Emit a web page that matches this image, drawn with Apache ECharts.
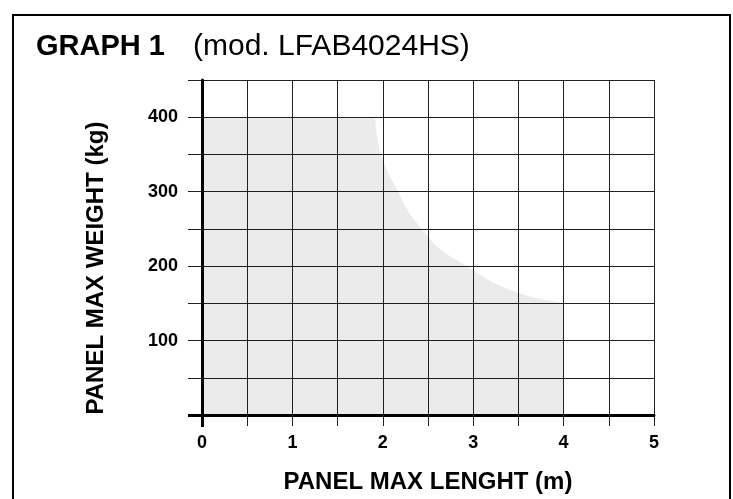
<!DOCTYPE html>
<html>
<head>
<meta charset="utf-8">
<script src="https://cdn.jsdelivr.net/npm/echarts@6/dist/echarts.min.js"></script>
<style>html,body{margin:0;padding:0;background:#fff}#c{width:733px;height:499px}</style>
</head>
<body>
<div id="c"></div>
<script>
// Data
var lengthM  = [0,   1.90, 1.93, 1.98, 2.06, 2.17, 2.28, 2.43, 2.63, 2.93, 3.19, 3.48, 3.74, 4.00];
var weightKg = [400, 400,  378,  350,  325,  300,  274,  250,  223,  200,  180,  165,  156,  150];
var xTicks = [0, 1, 2, 3, 4, 5];
var yTicks = [100, 200, 300, 400];

var font = '"Liberation Sans", Arial, Helvetica, sans-serif';
var gridColor = '#222';

var chart = echarts.init(document.getElementById('c'), null, {renderer: 'canvas'});
chart.setOption({
  animation: false,
  backgroundColor: '#fff',
  graphic: [
    {type: 'rect', shape: {x: 13, y: 15, width: 717, height: 520},
     style: {fill: 'none', stroke: '#000', lineWidth: 2}, z: 100},
    {type: 'text', left: 36, top: 32,
     style: {text: 'GRAPH 1', font: 'bold 29px ' + font, fill: '#000'}},
    {type: 'text', left: 193, top: 32,
     style: {text: '(mod. LFAB4024HS)', font: 'normal 30px ' + font, fill: '#000'}},
    {type: 'text', x: 96, y: 268, rotation: Math.PI / 2,
     style: {text: 'PANEL MAX WEIGHT (kg)', font: 'bold 24px ' + font, fill: '#000',
             align: 'center', verticalAlign: 'middle'}}
  ],
  grid: {left: 202, right: 79, top: 80, bottom: 82, containLabel: false},
  xAxis: [{
    type: 'value', min: 0, max: 5, interval: 0.5,
    name: 'PANEL MAX LENGHT (m)', nameLocation: 'middle', nameGap: 55,
    nameTextStyle: {fontFamily: font, fontWeight: 'bold', fontSize: 24, color: '#000'},
    axisLine: {show: true, onZero: false, lineStyle: {color: '#000', width: 3}},
    axisTick: {show: true, inside: false, length: 11, lineStyle: {color: gridColor, width: 1}},
    axisLabel: {show: true, margin: 19, fontFamily: font, fontWeight: 'bold', fontSize: 18, color: '#000',
      formatter: function (v) { return xTicks.indexOf(v) >= 0 ? String(v) : ''; }},
    splitLine: {show: true, lineStyle: {color: gridColor, width: 1}}
  }, {
    type: 'value', min: 0, max: 5, position: 'bottom', offset: 0,
    axisLine: {show: false},
    axisTick: {show: true, customValues: [0], length: 12, lineStyle: {color: '#000', width: 3}},
    axisLabel: {show: false}, splitLine: {show: false}
  }],
  yAxis: [{
    type: 'value', min: 0, max: 450, interval: 50,
    axisLine: {show: true, onZero: false, lineStyle: {color: '#000', width: 3}},
    axisTick: {show: true, inside: false, length: 14, lineStyle: {color: gridColor, width: 1}},
    axisLabel: {show: true, margin: 24, fontFamily: font, fontWeight: 'bold', fontSize: 18, color: '#000',
      formatter: function (v) { return yTicks.indexOf(v) >= 0 ? String(v) : ''; }},
    splitLine: {show: true, lineStyle: {color: gridColor, width: 1}}
  }, {
    type: 'value', min: 0, max: 450, position: 'left', offset: 0,
    axisLine: {show: false},
    axisTick: {show: true, customValues: [0], length: 14, lineStyle: {color: '#000', width: 3}},
    axisLabel: {show: false}, splitLine: {show: false}
  }],
  series: [{
    type: 'line',
    data: lengthM.map(function (x, i) { return [x, weightKg[i]]; }),
    smooth: 0.35,
    symbol: 'none',
    lineStyle: {width: 0, opacity: 0},
    areaStyle: {color: 'rgba(0,0,0,0.11)', origin: 'start'},
    z: 1
  }]
});
</script>
</body>
</html>
